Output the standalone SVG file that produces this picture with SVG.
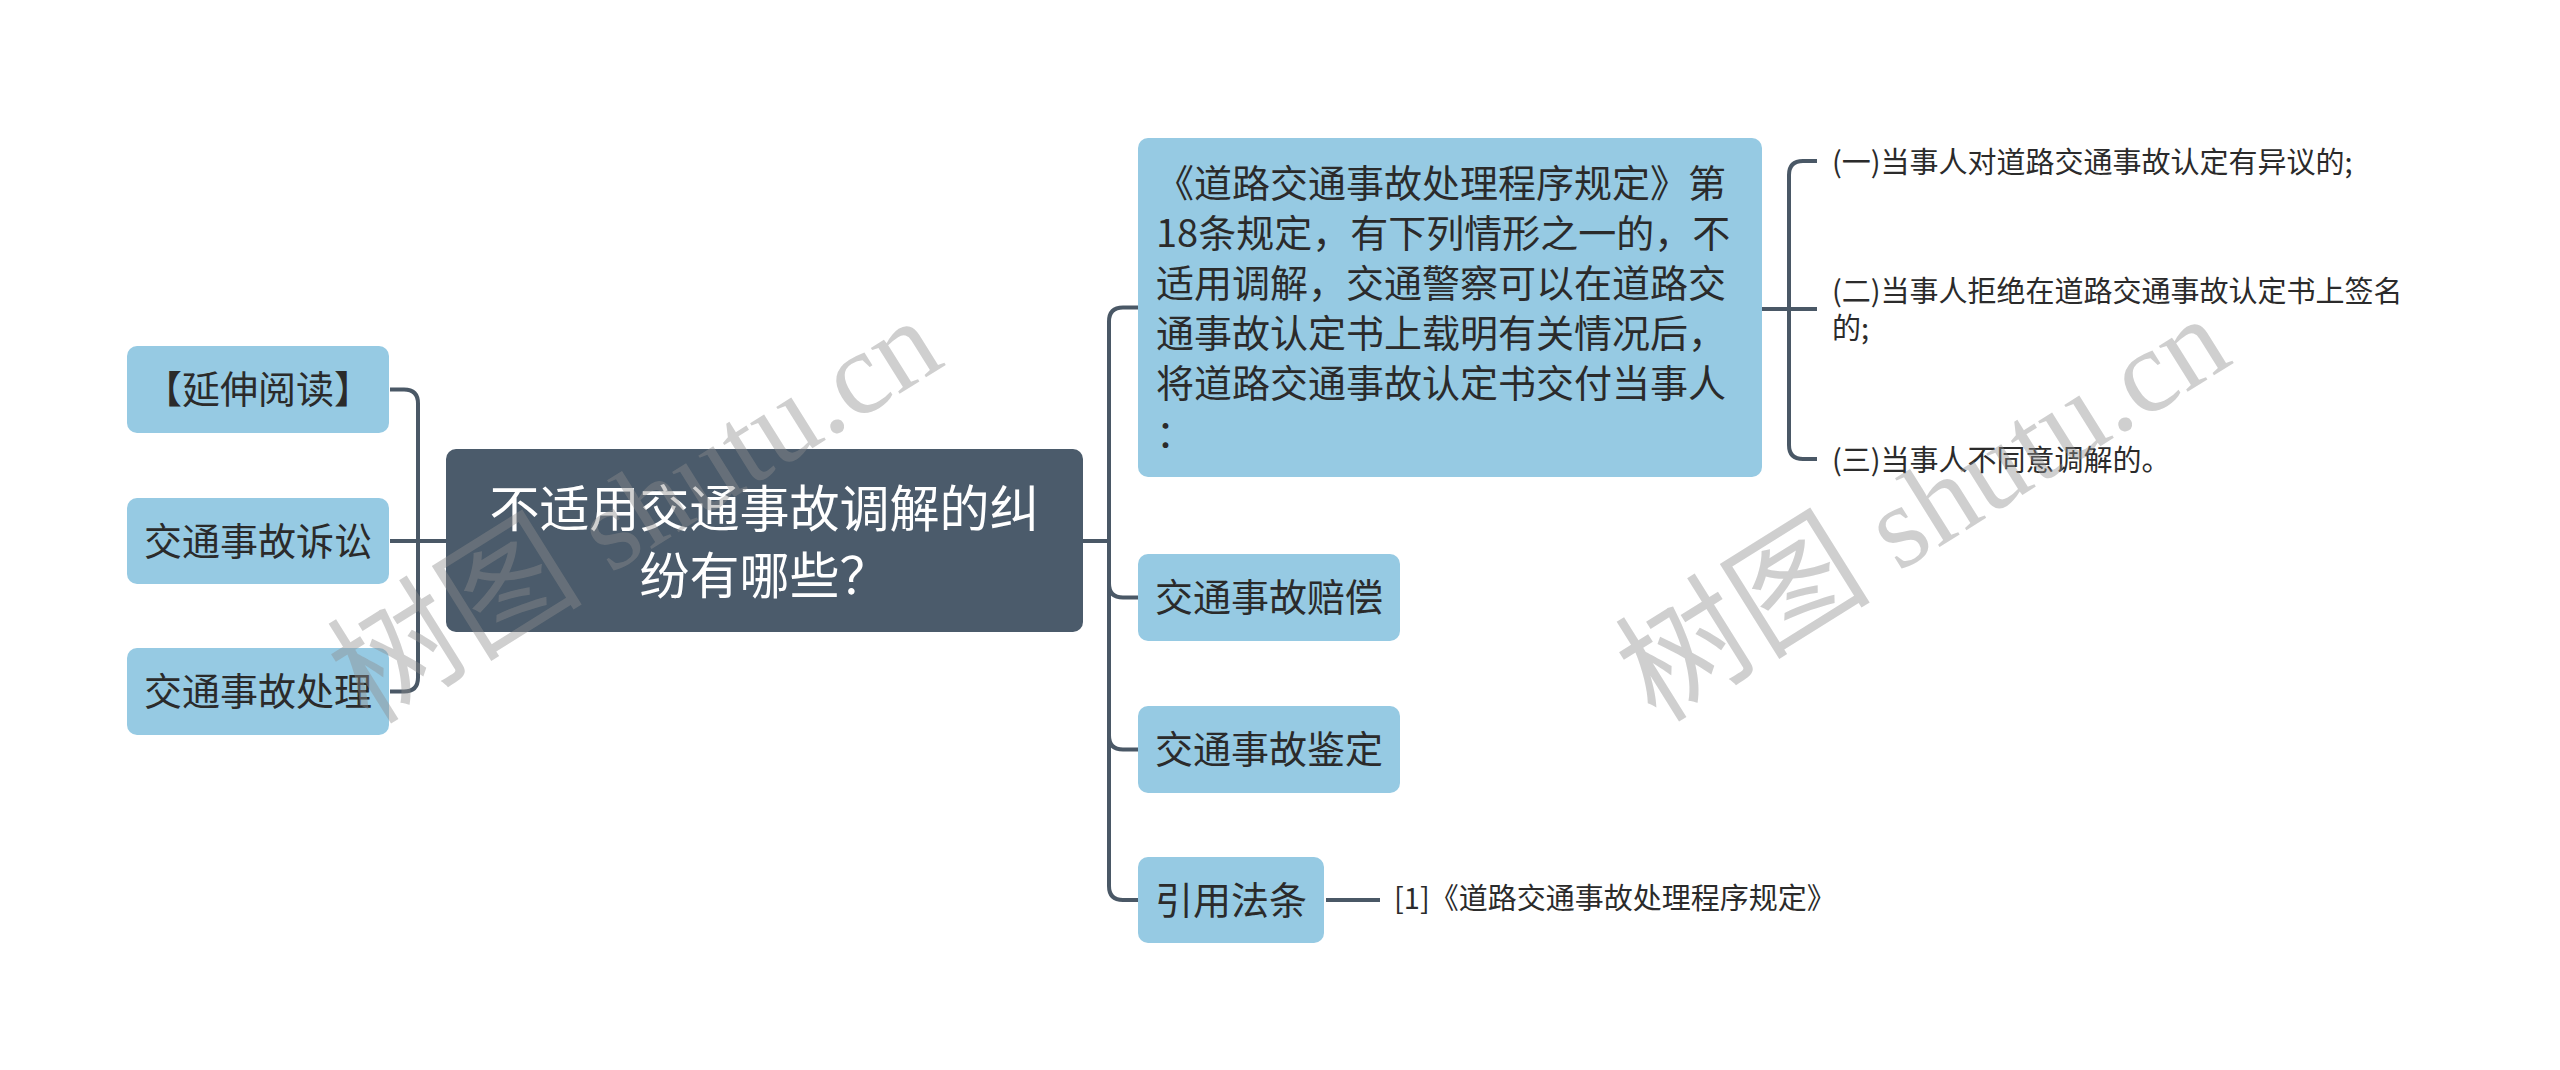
<svg xmlns="http://www.w3.org/2000/svg" width="2560" height="1070" viewBox="0 0 2560 1070">
<style>
.bg{fill:#ffffff}
.node rect{fill:#96cae3}
.root rect{fill:#4b5b6b}
.t{font-family:"Noto Sans CJK SC","Noto Sans",sans-serif;fill:#2b2b2b}
.t38{font-size:38px}
.rt{font-family:"Noto Sans CJK SC","Noto Sans",sans-serif;font-size:50px;fill:#ffffff}
.s{font-family:"Noto Sans CJK SC","Noto Sans",sans-serif;font-size:29px;fill:#2b2b2b}
.c{fill:none;stroke:#4a5866;stroke-width:4;stroke-linecap:butt}
.wm{font-family:"Liberation Serif","Noto Sans CJK SC",serif;font-size:118px;fill:#8c8c8c;fill-opacity:0.42}
.wm .cj{font-size:128px}
</style>
<rect class="bg" x="0" y="0" width="2560" height="1070"/>
<g id="connectors">
<path class="c" d="M390,389.5 H404 Q418,389.5 418,403.5 V677.5 Q418,691.5 404,691.5 H390"/>
<path class="c" d="M390,541 H446"/>
<path class="c" d="M1083,541 H1109"/>
<path class="c" d="M1138,307.5 H1123 Q1109,307.5 1109,321.5 V886 Q1109,900 1123,900 H1138"/>
<path class="c" d="M1109,570 V583.5 Q1109,597.5 1123,597.5 H1138"/>
<path class="c" d="M1109,722 V735.5 Q1109,749.5 1123,749.5 H1138"/>
<path class="c" d="M1762,309 H1817"/>
<path class="c" d="M1817,161 H1803 Q1789,161 1789,175 V445 Q1789,459 1803,459 H1817"/>
<path class="c" d="M1326,900 H1380"/>
</g>
<g id="root" class="root">
<rect x="446" y="449" width="637" height="183" rx="10"/>
<text class="rt" x="764.5" y="527" text-anchor="middle">不适用交通事故调解的纠</text>
<text class="rt" x="764.5" y="594" text-anchor="middle">纷有哪些？</text>
</g>
<g id="n-yanshen" class="node">
<rect x="127" y="346" width="262" height="87" rx="10"/>
<text class="t t38" x="258" y="403" text-anchor="middle">【延伸阅读】</text>
</g>
<g id="n-susong" class="node">
<rect x="127" y="498" width="262" height="86" rx="10"/>
<text class="t t38" x="258" y="554.5" text-anchor="middle">交通事故诉讼</text>
</g>
<g id="n-chuli" class="node">
<rect x="127" y="648" width="262" height="87" rx="10"/>
<text class="t t38" x="258" y="705" text-anchor="middle">交通事故处理</text>
</g>
<g id="n-guiding" class="node">
<rect x="1138" y="138" width="624" height="339" rx="10"/>
<text class="t t38" x="1156" y="197">《道路交通事故处理程序规定》第</text>
<text class="t t38" x="1156" y="247">18条规定，有下列情形之一的，不</text>
<text class="t t38" x="1156" y="297">适用调解，交通警察可以在道路交</text>
<text class="t t38" x="1156" y="347">通事故认定书上载明有关情况后，</text>
<text class="t t38" x="1156" y="397">将道路交通事故认定书交付当事人</text>
<text class="t t38" x="1156" y="447">：</text>
</g>
<g id="n-peichang" class="node">
<rect x="1138" y="554" width="262" height="87" rx="10"/>
<text class="t t38" x="1269" y="611" text-anchor="middle">交通事故赔偿</text>
</g>
<g id="n-jianding" class="node">
<rect x="1138" y="706" width="262" height="87" rx="10"/>
<text class="t t38" x="1269" y="763" text-anchor="middle">交通事故鉴定</text>
</g>
<g id="n-fatiao" class="node">
<rect x="1138" y="857" width="186" height="86" rx="10"/>
<text class="t t38" x="1231" y="913.5" text-anchor="middle">引用法条</text>
</g>
<g id="l-1">
<text class="s" x="1832" y="173">(一)当事人对道路交通事故认定有异议的;</text>
</g>
<g id="l-2">
<text class="s" x="1832" y="302">(二)当事人拒绝在道路交通事故认定书上签名</text>
<text class="s" x="1832" y="339">的;</text>
</g>
<g id="l-3">
<text class="s" x="1832" y="470.5">(三)当事人不同意调解的。</text>
</g>
<g id="l-ref">
<text class="s" x="1394" y="909">[1]《道路交通事故处理程序规定》</text>
</g>
<g id="watermarks">
<text class="wm" transform="translate(368,726) rotate(-32)" x="0" y="0" textLength="683" lengthAdjust="spacing"><tspan class="cj">树图</tspan> shutu.cn</text>
<text class="wm" transform="translate(1656,724) rotate(-32)" x="0" y="0" textLength="683" lengthAdjust="spacing"><tspan class="cj">树图</tspan> shutu.cn</text>
</g>
</svg>
